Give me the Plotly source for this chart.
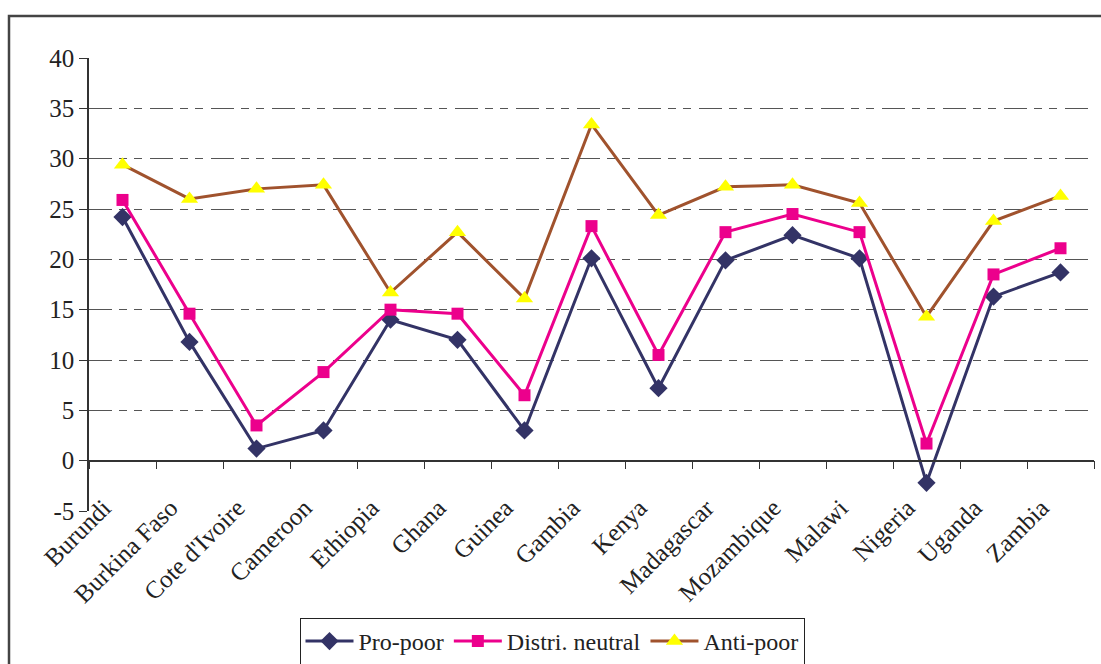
import plotly.graph_objects as go

countries = ["Burundi", "Burkina Faso", "Cote d'Ivoire", "Cameroon", "Ethiopia", "Ghana",
             "Guinea", "Gambia", "Kenya", "Madagascar", "Mozambique", "Malawi",
             "Nigeria", "Uganda", "Zambia"]
pro_poor = [24.2, 11.8, 1.2, 3.0, 14.0, 12.0, 3.0, 20.1, 7.2, 19.9, 22.4, 20.1, -2.2, 16.3, 18.7]
distri_neutral = [25.9, 14.6, 3.5, 8.8, 15.0, 14.6, 6.5, 23.3, 10.5, 22.7, 24.5, 22.7, 1.7, 18.5, 21.1]
anti_poor = [29.4, 26.0, 27.0, 27.4, 16.7, 22.7, 16.1, 33.4, 24.4, 27.2, 27.4, 25.6, 14.3, 23.8, 26.3]
y_ticks = [-5, 0, 5, 10, 15, 20, 25, 30, 35, 40]
y_tick_labels = ["-5", "0", "5", "10", "15", "20", "25", "30", "35", "40"]

FONT = "Liberation Serif"

fig = go.Figure()
fig.add_trace(go.Scatter(x=countries, y=pro_poor, name="Pro-poor", mode="lines+markers",
                         line=dict(color="#333366", width=3),
                         marker=dict(symbol="diamond", size=14, color="#333366")))
fig.add_trace(go.Scatter(x=countries, y=distri_neutral, name="Distri. neutral", mode="lines+markers",
                         line=dict(color="#EC008C", width=3),
                         marker=dict(symbol="square", size=12, color="#EC008C")))
fig.add_trace(go.Scatter(x=countries, y=anti_poor, name="Anti-poor", mode="lines+markers",
                         line=dict(color="#A0522D", width=3),
                         marker=dict(symbol="triangle-up", size=15, color="#FFFF00")))

fig.update_layout(
    width=1101, height=664,
    margin=dict(l=89, r=7, t=58, b=153, autoexpand=False),
    paper_bgcolor="white", plot_bgcolor="white",
    font=dict(family=FONT, size=25, color="#222222"),
    showlegend=True,
    legend=dict(orientation="h", xref="container", yref="container",
                x=552 / 1101, xanchor="center", y=(664 - 618) / 664, yanchor="top",
                bordercolor="#222222", borderwidth=1, bgcolor="white",
                font=dict(family=FONT, size=24, color="#222222"),
                itemwidth=48, tracegroupgap=0),
    xaxis=dict(type="category", anchor="free", position=5 / 45, range=[-0.5, 14.5],
               automargin=False,
               showline=True, linecolor="#333333", linewidth=1.5,
               ticks="outside", tickson="boundaries", ticklen=8, tickcolor="#333333",
               tickangle=-45, ticklabelshift=-19, ticklabelstandoff=22,
               showgrid=False, zeroline=False,
               tickfont=dict(family=FONT, size=25, color="#222222")),
    yaxis=dict(range=[-5, 40], tickmode="array", tickvals=y_ticks, ticktext=y_tick_labels,
               automargin=False,
               showline=True, linecolor="#333333", linewidth=1.5,
               ticks="outside", ticklen=8, tickcolor="#333333",
               showgrid=True, gridcolor="#555555", gridwidth=1.2,
               griddash="23px,7px,8px,7px,8px,8px",
               zeroline=False,
               tickfont=dict(family=FONT, size=25, color="#222222")),
    shapes=[dict(type="rect", xref="paper", yref="paper",
                 x0=(9 - 89) / 1005, x1=(1110 - 89) / 1005,
                 y0=(511 - 680) / 453, y1=(511 - 16) / 453,
                 line=dict(color="#444444", width=2.5), fillcolor="rgba(0,0,0,0)",
                 layer="below")],
)

fig.write_html("out.html")
